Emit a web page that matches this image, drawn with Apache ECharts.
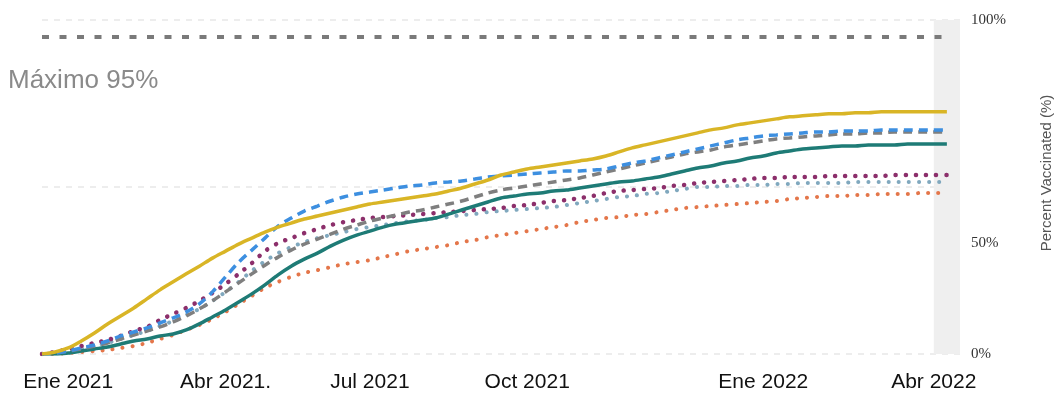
<!DOCTYPE html>
<html>
<head>
<meta charset="utf-8">
<script src="https://cdn.jsdelivr.net/npm/echarts@6/dist/echarts.min.js"></script>
<style>
  html, body { margin: 0; padding: 0; background: #fff; }
  #chart { width: 1055px; height: 400px; }
</style>
</head>
<body>
<div id="chart"></div>
<script>
// ---- data ----
// weekly categories (Dec 14 2020 ... ), one extra empty slot at the end
const startDate = new Date(Date.UTC(2020, 11, 14));
const categories = [];
for (let i = 0; i < 71; i++) {
  const d = new Date(startDate.getTime() + i * 7 * 86400000);
  categories.push(d.toISOString().slice(0, 10));
}
const xTickLabels = ['Ene 2021', 'Abr 2021.', 'Jul 2021', 'Oct 2021', 'Ene 2022', 'Abr 2022'];
const xTickIndex = [2, 14, 25, 37, 55, 68];
const yTickLabels = ['0%', '50%', '100%'];
const maxTarget = 95;
const maxLabel = 'Máximo 95%';
const yName = 'Percent Vaccinated (%)';

const yellow = [0,0.6,1.8,3.9,6.3,9.0,11.4,13.8,16.5,19.2,21.6,24.0,26.3,28.7,30.8,32.9,34.7,36.5,38.0,39.2,40.4,41.3,42.2,43.1,44.0,44.9,45.5,46.1,46.7,47.3,47.9,48.8,49.7,50.9,52.1,53.6,54.5,55.4,56.0,56.6,57.2,57.8,58.4,59.3,60.5,61.7,62.6,63.5,64.4,65.3,66.2,67.1,67.7,68.6,69.2,69.8,70.4,71.0,71.3,71.6,71.9,71.9,72.2,72.2,72.5,72.5,72.5,72.5,72.5,72.5,null];
const blue = [0,0.3,0.9,1.8,2.7,3.9,5.4,6.6,7.8,9.3,10.8,12.6,15.0,18.6,23.1,27.5,31.1,34.7,38.3,40.7,42.8,44.3,45.8,47.0,47.9,48.5,49.1,49.7,50.3,50.6,51.2,51.5,51.8,52.4,53.0,53.3,53.6,53.9,54.2,54.5,54.8,54.8,55.1,55.4,56.3,57.2,57.8,58.7,59.6,60.5,61.4,62.3,63.2,64.1,64.7,65.3,65.6,65.9,66.2,66.5,66.5,66.8,66.8,66.8,67.1,67.1,67.1,67.1,67.1,67.1,null];
const gray = [0,0.3,0.9,1.5,2.4,3.3,4.5,5.7,6.9,8.1,9.6,11.4,13.5,15.9,18.6,21.3,24.0,26.6,29.0,31.1,32.9,34.4,35.9,37.4,38.6,39.8,40.7,41.6,42.5,43.1,44.0,44.9,45.8,47.0,48.2,49.1,49.7,50.3,50.9,51.5,52.1,52.7,53.6,54.5,55.4,56.3,57.2,58.1,59.0,59.9,60.5,61.1,62.0,62.6,63.2,63.8,64.4,64.7,65.0,65.3,65.6,65.9,65.9,66.2,66.2,66.5,66.5,66.5,66.5,66.5,null];
const teal = [0,0,0.3,0.9,1.5,2.1,3.0,3.9,4.5,5.4,6.0,7.2,9.0,11.1,13.2,15.6,18.0,20.7,23.7,26.3,28.4,30.2,32.3,34.1,35.6,36.8,38.0,38.9,39.5,40.1,40.7,41.9,43.1,44.3,45.5,46.7,47.3,47.9,48.2,48.8,49.1,49.7,50.3,50.9,51.5,51.8,52.4,53.0,53.9,54.8,55.7,56.3,57.2,57.8,58.7,59.3,60.2,60.8,61.4,61.7,62.0,62.3,62.3,62.6,62.6,62.6,62.9,62.9,62.9,62.9,null];
const purple = [0,0.6,1.5,2.4,3.3,4.2,5.4,6.9,8.1,10.2,12.0,13.8,15.9,18.3,21.0,24.0,27.2,30.8,33.2,34.7,36.2,37.4,38.6,39.5,40.1,40.7,41.0,41.3,41.6,41.9,42.2,42.5,42.8,43.1,43.4,43.7,44.3,44.6,45.2,45.8,46.1,46.7,47.3,48.2,48.8,49.1,49.4,49.7,50.3,50.6,51.2,51.5,51.8,52.1,52.4,52.7,52.7,53.0,53.0,53.0,53.3,53.3,53.3,53.3,53.3,53.6,53.6,53.6,53.6,53.6,null];
const lightBlue = [0,0.3,0.9,1.5,2.4,3.3,4.5,5.7,6.9,8.4,9.9,11.7,13.5,15.9,18.6,21.6,24.9,27.8,30.2,32.0,33.5,34.7,35.6,36.5,37.4,38.0,38.6,39.2,39.8,40.1,40.7,41.0,41.6,41.9,42.5,42.8,43.1,43.4,43.7,44.0,44.6,45.2,45.8,46.4,47.0,47.3,47.9,48.2,48.8,49.4,50.0,50.0,50.3,50.3,50.6,50.6,50.9,50.9,51.2,51.2,51.2,51.2,51.5,51.5,51.5,51.5,51.5,51.5,51.5,51.5,null];
const orange = [0,0,0.3,0.6,0.9,1.2,1.8,2.4,3.3,4.5,5.7,7.2,8.7,10.5,12.6,15.0,17.4,19.8,21.6,23.1,24.3,25.1,26.0,26.9,27.5,28.1,29.0,29.9,30.8,31.4,32.0,32.6,33.5,34.1,35.0,35.6,36.2,36.8,37.4,38.0,38.6,39.5,40.1,40.7,41.0,41.6,41.9,42.5,43.1,43.7,44.0,44.3,44.6,44.9,45.2,45.5,45.8,46.4,46.7,47.0,47.3,47.3,47.6,47.6,47.9,47.9,47.9,48.2,48.2,48.2,null];

// ---- chart ----
const chart = echarts.init(document.getElementById('chart'), null, { renderer: 'canvas' });

function lineSeries(name, data, color, width, type, cap) {
  return {
    name: name, type: 'line', data: data, showSymbol: false, symbol: 'none',
    smooth: 0.3, silent: true,
    lineStyle: { color: color, width: width, type: type, cap: cap || 'butt' },
    z: 3
  };
}

const option = {
  animation: false,
  grid: { left: 42, right: 95, top: 20, bottom: 46, containLabel: false, outerBoundsMode: 'none' },
  xAxis: {
    type: 'category',
    data: categories,
    boundaryGap: false,
    axisLine: { show: false },
    axisTick: { show: false },
    splitLine: { show: false },
    axisLabel: {
      interval: function (index) { return xTickIndex.indexOf(index) >= 0; },
      formatter: function (value, index) {
        const k = xTickIndex.indexOf(index);
        return k >= 0 ? xTickLabels[k] : '';
      },
      margin: 18,
      fontFamily: 'Liberation Sans, Arial, sans-serif',
      fontSize: 21,
      color: '#111'
    }
  },
  yAxis: {
    type: 'value',
    position: 'right',
    min: 0, max: 100, interval: 50,
    name: yName,
    nameLocation: 'middle',
    nameRotate: 90,
    nameGap: 79,
    nameTextStyle: { fontFamily: 'Liberation Sans, Arial, sans-serif', fontSize: 15, color: '#555', padding: [0, 0, 0, 28] },
    axisLine: { show: false },
    axisTick: { show: false },
    splitLine: { show: true, lineStyle: { color: '#e8e8e8', width: 1.5, type: [6, 6] } },
    axisLabel: {
      margin: 11,
      fontFamily: 'Liberation Serif, Times New Roman, serif',
      fontSize: 15,
      color: '#333',
      formatter: function (v) {
        const k = [0, 50, 100].indexOf(v);
        const t = k >= 0 ? yTickLabels[k] : '';
        return v === 50 ? '{s|' + t + '}' : t;
      },
      rich: {
        s: { fontFamily: 'Liberation Serif, Times New Roman, serif', fontSize: 15, color: '#333', padding: [112, 0, 0, 0] }
      }
    }
  },
  graphic: [{
    type: 'text', left: 8, top: 68, silent: true,
    style: { text: maxLabel, fontFamily: 'Liberation Sans, Arial, sans-serif', fontSize: 26, fill: '#8a8a8a' }
  }],
  series: [
    {
      name: 'ref', type: 'line', data: [], silent: true, z: 1,
      markArea: {
        silent: true,
        itemStyle: { color: '#efefef', opacity: 1 },
        data: [[{ xAxis: categories[68] }, { xAxis: categories[70] }]]
      },
      markLine: {
        silent: true, symbol: ['none', 'none'],
        label: { show: false },
        lineStyle: { color: '#7a7a7a', width: 4, type: [7, 10.5] },
        data: [[{ xAxis: categories[0], yAxis: maxTarget }, { xAxis: categories[69], yAxis: maxTarget }]]
      }
    },
    lineSeries('orange', orange, '#e4764a', 4, [0.1, 10], 'round'),
    lineSeries('lightblue', lightBlue, '#80a8be', 4, [0.1, 10], 'round'),
    lineSeries('purple', purple, '#8c2f6b', 4.5, [0.1, 10], 'round'),
    lineSeries('teal', teal, '#1e7b76', 3.5, 'solid'),
    lineSeries('gray', gray, '#7f7f7f', 3.5, [9, 6]),
    lineSeries('blue', blue, '#3d8fe0', 3.5, [9, 6]),
    lineSeries('yellow', yellow, '#d9b526', 3.5, 'solid')
  ]
};
chart.setOption(option);
</script>
</body>
</html>
